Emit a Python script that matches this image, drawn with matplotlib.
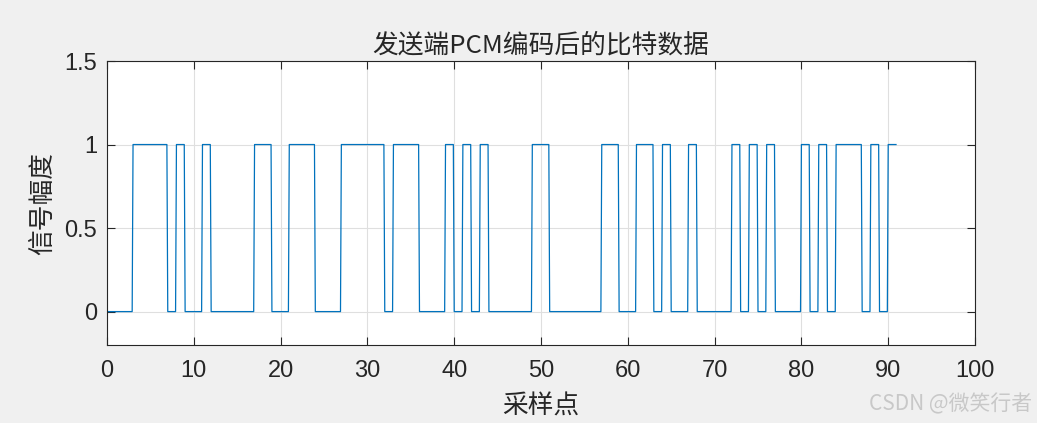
import matplotlib
matplotlib.use("Agg")
import matplotlib.pyplot as plt
import numpy as np

# bit stream (one value per bit, 91 bits)
BITS = [0, 0, 0, 1, 1, 1, 1, 0, 1, 0, 0, 1, 0, 0, 0, 0, 0, 1, 1, 0,
        0, 1, 1, 1, 0, 0, 0, 1, 1, 1, 1, 1, 0, 1, 1, 1, 0, 0, 0, 1,
        0, 1, 0, 1, 0, 0, 0, 0, 0, 1, 1, 0, 0, 0, 0, 0, 0, 1, 1, 0,
        0, 1, 1, 0, 1, 0, 0, 1, 0, 0, 0, 0, 1, 0, 1, 0, 1, 0, 0, 0,
        1, 0, 1, 0, 1, 1, 1, 0, 1, 0, 1]
SAMPLES_PER_BIT = 10
X_TICKS = [0, 10, 20, 30, 40, 50, 60, 70, 80, 90, 100]
Y_TICKS = [0, 0.5, 1, 1.5]
Y_TICK_LABELS = ["0", "0.5", "1", "1.5"]
TITLE = "发送端PCM编码后的比特数据"
XLABEL = "采样点"
YLABEL = "信号幅度"
WATERMARK = "CSDN @微笑行者"

plt.rcParams["font.family"] = ["Liberation Sans", "Noto Sans CJK SC", "DejaVu Sans"]
CJK = ["Noto Sans CJK SC", "DejaVu Sans"]
INK = "#262626"

# each bit held for SAMPLES_PER_BIT samples, like the upsampled MATLAB signal
y = np.repeat(BITS, SAMPLES_PER_BIT)
x = np.arange(len(y)) / SAMPLES_PER_BIT

fig = plt.figure(figsize=(10.37, 4.23), dpi=100, facecolor="#f0f0f0")
ax = fig.add_axes([107 / 1037, 1 - 345 / 423, 868 / 1037, 284 / 423])
ax.set_facecolor("white")
ax.plot(x, y, color="#0072BD", lw=0.9)

ax.set_xlim(0, 100)
ax.set_ylim(-0.2, 1.5)
ax.set_xticks(X_TICKS)
ax.set_yticks(Y_TICKS)
ax.set_yticklabels(Y_TICK_LABELS)
ax.grid(True, color="#dfdfdf", lw=0.8)
ax.set_axisbelow(True)
ax.tick_params(direction="in", length=5.5, width=0.8, colors=INK, labelsize=17,
               top=True, right=True)
ax.tick_params(axis="x", pad=11)
ax.tick_params(axis="y", pad=7)
for s in ax.spines.values():
    s.set_color(INK)
    s.set_linewidth(0.8)

ax.set_title(TITLE, fontsize=18.5, color=INK, family=CJK, pad=6)
ax.set_xlabel(XLABEL, fontsize=18.5, color=INK, family=CJK, labelpad=8)
ax.set_ylabel(YLABEL, fontsize=18.5, color=INK, family=CJK, labelpad=6)

fig.text(1032 / 1037, 1 - 404 / 423, WATERMARK, ha="right", va="center",
         fontsize=15, color="#c8c8c8", family=CJK)

fig.savefig("out.png", dpi=100, facecolor=fig.get_facecolor())
